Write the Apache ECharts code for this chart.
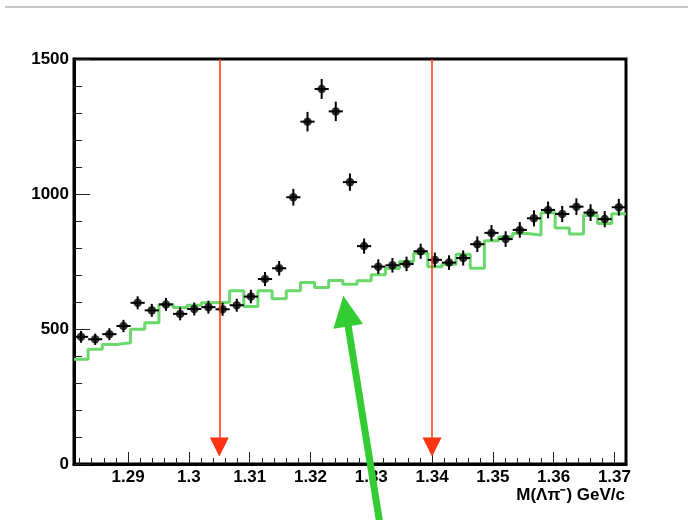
<!DOCTYPE html>
<html><head><meta charset="utf-8">
<script src="https://cdn.jsdelivr.net/npm/echarts@6/dist/echarts.min.js"></script>
<style>html,body{margin:0;padding:0;background:#fff}#c{width:688px;height:520px}</style>
</head><body><div id="c"></div>
<script>
// ---- data ----
const binCenters = [1.28226,1.28459,1.28692,1.28924,1.29157,1.29390,1.29623,1.29856,1.30088,1.30321,
  1.30554,1.30787,1.31020,1.31252,1.31485,1.31718,1.31951,1.32184,1.32416,1.32649,
  1.32882,1.33115,1.33348,1.33580,1.33813,1.34046,1.34279,1.34512,1.34744,1.34977,
  1.35210,1.35443,1.35676,1.35908,1.36141,1.36374,1.36607,1.36840,1.37072];
const binWidth = 0.002328;
const dataCounts = [471,462,481,511,597,569,591,556,574,581,
  573,588,620,685,725,988,1268,1389,1306,1044,
  807,731,736,741,788,756,746,763,814,856,
  833,867,910,941,926,953,931,907,951];
const dataErrors = [22,21,22,23,24,24,24,24,24,24,
  24,24,25,26,27,31,36,37,36,32,
  28,27,27,27,28,27,27,28,29,29,
  29,29,30,31,30,31,31,30,31];
const mcCounts = [388,425,443,449,499,523,591,580,588,597,
  599,642,583,642,612,642,672,654,680,666,
  679,701,724,750,781,731,740,777,725,827,
  842,854,848,931,874,852,920,891,927];
const xMajorTicks = [1.29,1.30,1.31,1.32,1.33,1.34,1.35,1.36,1.37];
const xMinorTicks = [1.282,1.284,1.286,1.288,1.292,1.294,1.296,1.298,1.302,1.304,1.306,1.308,
  1.312,1.314,1.316,1.318,1.322,1.324,1.326,1.328,1.332,1.334,1.336,1.338,
  1.342,1.344,1.346,1.348,1.352,1.354,1.356,1.358,1.362,1.364,1.366,1.368];
const xRange = [1.2811, 1.3719];
const yRange = [0, 1500];
const yInterval = 500;
const cutLines = [1.305, 1.34];
const cutArrowEnd = 63;
const arrowTip = [1.3254, 623];
const arrowTail = [1.33145, -226];
const xTitle = 'M(Λπ⁻) GeV/c';

// ---- build ----
const FONT = '"Liberation Sans", Arial, Helvetica, sans-serif';
const pts = binCenters.map((x, i) => [x, dataCounts[i], dataErrors[i]]);
const hist = binCenters.map((x, i) => [x - binWidth / 2, mcCounts[i]]);
hist.push([binCenters[binCenters.length - 1] + binWidth / 2, mcCounts[mcCounts.length - 1]]);

const chart = echarts.init(document.getElementById('c'), null, {renderer: 'canvas'});
const labelStyle = {color: '#000', fontSize: 17, fontWeight: 'bold', fontFamily: FONT};
const option = {
  animation: false,
  backgroundColor: '#fff',
  grid: {left: 74, top: 59, width: 552, height: 405, show: true, borderColor: '#000', borderWidth: 3, backgroundColor: 'transparent'},
  xAxis: [
    {type: 'value', min: xRange[0], max: xRange[1], position: 'bottom',
      axisLine: {show: true, onZero: false, lineStyle: {color: '#000', width: 3}},
      axisTick: {show: true, inside: true, length: 12, customValues: xMajorTicks, lineStyle: {color: '#222', width: 1}},
      axisLabel: Object.assign({customValues: xMajorTicks, margin: 5, formatter: v => String(+(+v).toFixed(3))}, labelStyle),
      splitLine: {show: false}},
    {type: 'value', min: xRange[0], max: xRange[1], position: 'bottom',
      axisLine: {show: false, onZero: false},
      axisTick: {show: true, inside: true, length: 6, customValues: xMinorTicks, lineStyle: {color: '#222', width: 1}},
      axisLabel: {show: false}, splitLine: {show: false}}
  ],
  yAxis: {type: 'value', min: yRange[0], max: yRange[1], interval: yInterval,
    axisLine: {show: true, onZero: false, lineStyle: {color: '#000', width: 3}},
    axisTick: {show: true, inside: true, length: 16, lineStyle: {color: '#222', width: 1}},
    minorTick: {show: true, splitNumber: 5, length: 8, lineStyle: {color: '#222', width: 1}},
    axisLabel: Object.assign({margin: 5, formatter: v => String(v)}, labelStyle),
    splitLine: {show: false}},
  series: [
    {type: 'line', data: hist, step: 'end', symbol: 'none', silent: true,
      lineStyle: {color: '#6ad86a', width: 3}, z: 2,
      markLine: {silent: true, symbol: ['none', 'triangle'], symbolSize: 19, animation: false,
        label: {show: false},
        lineStyle: {color: '#ff3311', width: 1.5, type: 'solid'},
        itemStyle: {color: '#ff3311'},
        emphasis: {disabled: true},
        data: cutLines.map(x => [{coord: [x, yRange[1]]}, {coord: [x, cutArrowEnd]}])}},
    {type: 'custom', data: pts, silent: true, z: 3,
      renderItem: function (params, api) {
        const x = api.value(0), y = api.value(1), e = api.value(2);
        const c = api.coord([x, y]);
        const t = api.coord([x, y + e]), b = api.coord([x, y - e]);
        const l = api.coord([x - binWidth / 2, y]), r = api.coord([x + binWidth / 2, y]);
        return {type: 'group', children: [
          {type: 'line', shape: {x1: c[0], y1: t[1], x2: c[0], y2: b[1]}, style: {stroke: '#000', lineWidth: 2}},
          {type: 'line', shape: {x1: l[0], y1: c[1], x2: r[0], y2: c[1]}, style: {stroke: '#000', lineWidth: 2}}
        ]};
      }},
    {type: 'scatter', data: pts.map(p => [p[0], p[1]]), symbol: 'circle', symbolSize: 8.5,
      itemStyle: {color: '#000'}, silent: true, z: 4}
  ],
  graphic: [
    {id: 'topline', type: 'line', shape: {x1: 5, y1: 7, x2: 688, y2: 7}, style: {stroke: '#b4b4b4', lineWidth: 1.5}},
    {id: 'xtitle', type: 'text', right: 63, top: 487, z: 50,
      style: {text: xTitle, font: 'bold 17px ' + FONT, fill: '#000'}}
  ]
};
chart.setOption(option);

// green annotation arrow, positioned in data coordinates
const tip = chart.convertToPixel({xAxisIndex: 0, yAxisIndex: 0}, arrowTip);
const tail = chart.convertToPixel({xAxisIndex: 0, yAxisIndex: 0}, arrowTail);
const dx = tip[0] - tail[0], dy = tip[1] - tail[1];
const L = Math.hypot(dx, dy), ux = dx / L, uy = dy / L;
const headLen = 31, headHalf = 15;
const base = [tip[0] - ux * headLen, tip[1] - uy * headLen];
const pL = [base[0] - uy * headHalf, base[1] + ux * headHalf];
const pR = [base[0] + uy * headHalf, base[1] - ux * headHalf];
chart.setOption({graphic: [
  {id: 'arrowShaft', type: 'line', z: 100,
    shape: {x1: base[0] + ux * 2, y1: base[1] + uy * 2, x2: tail[0], y2: tail[1]},
    style: {stroke: '#33cc33', lineWidth: 7}},
  {id: 'arrowHead', type: 'polygon', z: 100,
    shape: {points: [tip, pL, pR]}, style: {fill: '#33cc33'}}
]});
</script>
</body></html>
